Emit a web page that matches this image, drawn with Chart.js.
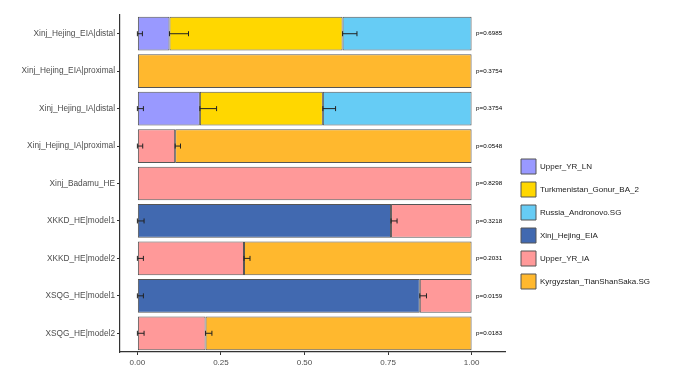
<!DOCTYPE html>
<html>
<head>
<meta charset="utf-8">
<script src="https://cdn.jsdelivr.net/npm/chart.js@4.4.1/dist/chart.umd.min.js"></script>
<style>
  html, body { margin: 0; padding: 0; background: #ffffff; }
  #wrap { width: 699px; height: 369px; position: relative; }
</style>
</head>
<body>
<div id="wrap"><canvas id="c" width="699" height="369"></canvas></div>
<script>
// ---- data ----
const categories = [
  'Xinj_Hejing_EIA|distal',
  'Xinj_Hejing_EIA|proximal',
  'Xinj_Hejing_IA|distal',
  'Xinj_Hejing_IA|proximal',
  'Xinj_Badamu_HE',
  'XKKD_HE|model1',
  'XKKD_HE|model2',
  'XSQG_HE|model1',
  'XSQG_HE|model2'
];
const seriesNames = [
  'Upper_YR_LN',
  'Turkmenistan_Gonur_BA_2',
  'Russia_Andronovo.SG',
  'Xinj_Hejing_EIA',
  'Upper_YR_IA',
  'Kyrgyzstan_TianShanSaka.SG'
];
const upperYR_LN   = [0.096, null, 0.187, null, null, null, null, null, null];
const gonurBA2     = [0.518, null, 0.368, null, null, null, null, null, null];
const andronovoSG  = [0.386, null, 0.445, null, null, null, null, null, null];
const hejingEIA    = [null, null, null, null, null, 0.759, null, 0.845, null];
const upperYR_IA   = [null, null, null, 0.113, 1.000, 0.241, 0.319, 0.155, 0.204];
const tianShanSaka = [null, 1.000, null, 0.887, null, null, 0.681, null, 0.796];

const errLN        = [0.015, 0, 0.018, 0, 0, 0, 0, 0, 0];
const errGonur     = [0.057, 0, 0.050, 0, 0, 0, 0, 0, 0];
const errAndronovo = [0.043, 0, 0.038, 0, 0, 0, 0, 0, 0];
const errHejingEIA = [0, 0, 0, 0, 0, 0.020, 0, 0.018, 0];
const errYR_IA     = [0, 0, 0, 0.016, 0, 0.018, 0.018, 0.020, 0.020];
const errTianShan  = [0, 0, 0, 0.016, 0, 0, 0.018, 0, 0.019];

const pValues = ['p=0.6985', 'p=0.3754', 'p=0.3754', 'p=0.0548', 'p=0.8298',
                 'p=0.3218', 'p=0.2031', 'p=0.0159', 'p=0.0183'];
const xTicks = [0, 0.25, 0.5, 0.75, 1.0];

// ---- styles ----
const colors = ['#9999FF', '#FFD700', '#66CCF5', '#4169B0', '#FF9999', '#FFB82E'];
const seriesValues = [upperYR_LN, gonurBA2, andronovoSG, hejingEIA, upperYR_IA, tianShanSaka];
const seriesErrors = [errLN, errGonur, errAndronovo, errHejingEIA, errYR_IA, errTianShan];

const datasets = seriesNames.map((name, i) => ({
  label: name,
  data: seriesValues[i],
  errors: seriesErrors[i],
  backgroundColor: colors[i],
  borderColor: '#555555',
  borderWidth: 1,
  borderSkipped: false,
  barPercentage: 0.9,
  categoryPercentage: 1.0
}));

const FONT = "'Liberation Sans', Arial, sans-serif";

const errorBarPlugin = {
  id: 'errorBars',
  afterDatasetsDraw(chart) {
    const ctx = chart.ctx;
    const xs = chart.scales.x, ys = chart.scales.y;
    ctx.save();
    ctx.strokeStyle = '#222222';
    ctx.lineWidth = 1;
    chart.data.datasets.forEach((ds, i) => {
      ds.errors.forEach((e, j) => {
        if (!e || ds.data[j] == null) return;
        let start = 0;
        for (let k = 0; k < i; k++) {
          const v = chart.data.datasets[k].data[j];
          if (v != null) start += v;
        }
        const x1 = xs.getPixelForValue(start);
        const x2 = xs.getPixelForValue(start + e);
        const y = ys.getPixelForValue(j);
        ctx.beginPath();
        ctx.moveTo(x1, y); ctx.lineTo(x2, y);
        ctx.moveTo(x1, y - 2.5); ctx.lineTo(x1, y + 2.5);
        ctx.moveTo(x2, y - 2.5); ctx.lineTo(x2, y + 2.5);
        ctx.stroke();
      });
    });
    ctx.restore();
  }
};

const pLabelPlugin = {
  id: 'pLabels',
  afterDatasetsDraw(chart) {
    const ctx = chart.ctx;
    const xs = chart.scales.x, ys = chart.scales.y;
    ctx.save();
    ctx.fillStyle = '#000000';
    ctx.font = '6.2px ' + FONT;
    ctx.textAlign = 'left';
    ctx.textBaseline = 'middle';
    pValues.forEach((p, j) => {
      ctx.fillText(p, xs.getPixelForValue(1.0) + 4.5, ys.getPixelForValue(j));
    });
    ctx.restore();
  }
};

const legendPosPlugin = {
  id: 'legendPos',
  afterLayout(chart) {
    const lg = chart.legend;
    if (!lg) return;
    const w = lg.right - lg.left, h = lg.bottom - lg.top;
    lg.left = 513; lg.right = 513 + w;
    lg.top = 151; lg.bottom = 151 + h;
  }
};

new Chart(document.getElementById('c'), {
  type: 'bar',
  data: { labels: categories, datasets },
  options: {
    indexAxis: 'y',
    responsive: false,
    animation: false,
    layout: { padding: { top: 15, bottom: 0, left: 0, right: 47 } },
    plugins: {
      tooltip: { enabled: false },
      legend: {
        position: 'right',
        align: 'start',
        labels: {
          boxWidth: 15,
          boxHeight: 15,
          padding: 8,
          color: '#1a1a1a',
          font: { family: FONT, size: 8 }
        }
      }
    },
    scales: {
      x: {
        stacked: true,
        min: -0.052,
        max: 1.1,
        afterBuildTicks: (s) => { s.ticks = xTicks.map(v => ({ value: v })); },
        afterFit: (s) => { s.height = 17; },
        ticks: {
          color: '#4d4d4d',
          font: { family: FONT, size: 8 },
          padding: 3,
          maxRotation: 0,
          callback: (v) => Number(v).toFixed(2)
        },
        grid: { drawOnChartArea: false, drawTicks: true, tickLength: 3, color: '#333333' },
        border: { display: true, color: '#333333', width: 1.2 }
      },
      y: {
        stacked: true,
        afterFit: (s) => { s.width = 120; },
        ticks: {
          color: '#4d4d4d',
          font: { family: FONT, size: 8.3 },
          padding: 2
        },
        grid: { offset: false, drawOnChartArea: false, drawTicks: true, tickLength: 3, color: '#333333' },
        border: { display: true, color: '#333333', width: 1.2 }
      }
    }
  },
  plugins: [errorBarPlugin, pLabelPlugin, legendPosPlugin]
});
</script>
</body>
</html>
